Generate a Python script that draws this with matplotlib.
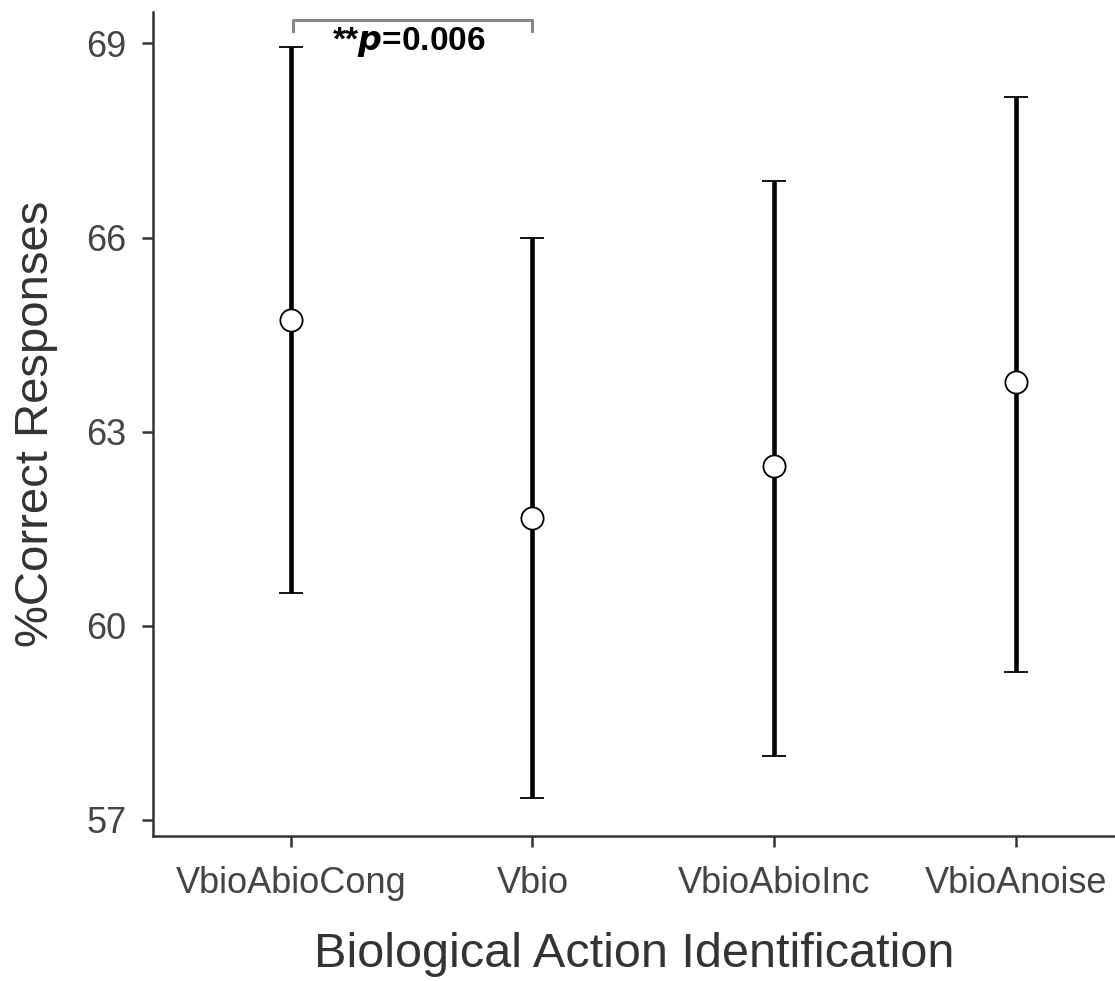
import numpy as np
import matplotlib.pyplot as plt

plt.rcParams['font.family'] = ['Liberation Sans', 'DejaVu Sans']

# data
conditions = ['VbioAbioCong', 'Vbio', 'VbioAbioInc', 'VbioAnoise']
means = [64.73, 61.67, 62.46, 63.76]
upper = [68.95, 66.0, 66.88, 68.18]
lower = [60.50, 57.34, 57.98, 59.29]
yticks = [57, 60, 63, 66, 69]

x = np.arange(1, len(conditions) + 1)
err = [np.array(means) - np.array(lower), np.array(upper) - np.array(means)]

fig = plt.figure(figsize=(11.15, 9.81), dpi=100)
ax = fig.add_axes([0.137, 0.148, 0.863, 0.840])

ax.errorbar(x, means, yerr=err, fmt='o', color='black', ecolor='black',
            elinewidth=3.3, capsize=8.3, capthick=3.3,
            markersize=16, markerfacecolor='white', markeredgecolor='black',
            markeredgewidth=1.3, zorder=3)

ax.set_xlim(0.429, 4.41)
ax.set_ylim(56.75, 69.49)
ax.set_xticks(x)
ax.set_xticklabels(conditions)
ax.set_yticks(yticks)

for side in ['top', 'right']:
    ax.spines[side].set_visible(False)
for side in ['left', 'bottom']:
    ax.spines[side].set_color('#333333')
    ax.spines[side].set_linewidth(1.8)

ax.tick_params(axis='both', length=8, width=1.8, color='#333333',
               labelcolor='#444444', labelsize=26)
ax.tick_params(axis='y', pad=11)
ax.tick_params(axis='x', pad=14)

ax.set_xlabel('Biological Action Identification', fontsize=35,
              color='#333333', labelpad=22)
ax.set_ylabel('%Correct Responses', fontsize=34, color='#333333',
              labelpad=20)

# significance bracket
ax.plot([1.01, 1.01, 2.0, 2.0], [69.19, 69.37, 69.37, 69.19],
        color='#888888', linewidth=2.2, clip_on=False)
ax.text(1.49, 69.03, r'**$\bfit{p}$=0.006', fontsize=24, fontweight='bold',
        ha='center', va='center', color='black')

fig.savefig('out.png', dpi=100)
